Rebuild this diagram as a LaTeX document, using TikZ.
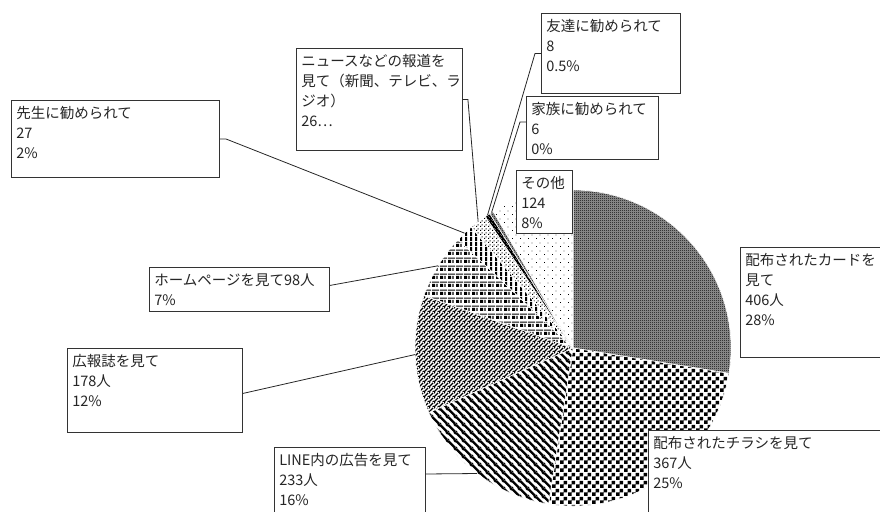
\documentclass[tikz,border=0pt]{standalone}
\usepackage{fontspec}
\setmainfont{Noto Sans CJK JP}
\usetikzlibrary{patterns}

% fill patterns of the slices
\pgfdeclarepatternformonly{fine checker}{\pgfpointorigin}{\pgfqpoint{2pt}{2pt}}{\pgfqpoint{2pt}{2pt}}{%
  \pgfpathrectangle{\pgfpointorigin}{\pgfqpoint{1pt}{1pt}}%
  \pgfpathrectangle{\pgfqpoint{1pt}{1pt}}{\pgfqpoint{1pt}{1pt}}%
  \pgfusepath{fill}}
\pgfdeclarepatternformonly{big checker}{\pgfpointorigin}{\pgfqpoint{8pt}{8pt}}{\pgfqpoint{8pt}{8pt}}{%
  \pgfpathrectangle{\pgfpointorigin}{\pgfqpoint{4pt}{4pt}}%
  \pgfpathrectangle{\pgfqpoint{4pt}{4pt}}{\pgfqpoint{4pt}{4pt}}%
  \pgfusepath{fill}}
\pgfdeclarepatternformonly{wide stripes}{\pgfpointorigin}{\pgfqpoint{8pt}{8pt}}{\pgfqpoint{8pt}{8pt}}{%
  \pgfsetlinewidth{2.6pt}%
  \pgfpathmoveto{\pgfqpoint{0pt}{8pt}}\pgfpathlineto{\pgfqpoint{8pt}{0pt}}%
  \pgfpathmoveto{\pgfqpoint{-1pt}{1pt}}\pgfpathlineto{\pgfqpoint{1pt}{-1pt}}%
  \pgfpathmoveto{\pgfqpoint{7pt}{9pt}}\pgfpathlineto{\pgfqpoint{9pt}{7pt}}%
  \pgfusepath{stroke}}
\pgfdeclarepatternformonly{thin stripes}{\pgfpointorigin}{\pgfqpoint{4.5pt}{4.5pt}}{\pgfqpoint{4.5pt}{4.5pt}}{%
  \pgfsetlinewidth{1.5pt}%
  \pgfpathmoveto{\pgfqpoint{0pt}{0pt}}\pgfpathlineto{\pgfqpoint{4.5pt}{4.5pt}}%
  \pgfpathmoveto{\pgfqpoint{3.5pt}{-1pt}}\pgfpathlineto{\pgfqpoint{5.5pt}{1pt}}%
  \pgfpathmoveto{\pgfqpoint{-1pt}{3.5pt}}\pgfpathlineto{\pgfqpoint{1pt}{5.5pt}}%
  \pgfusepath{stroke}}
\pgfdeclarepatternformonly{plaid}{\pgfpointorigin}{\pgfqpoint{8pt}{8pt}}{\pgfqpoint{8pt}{8pt}}{%
  \pgfpathrectangle{\pgfpointorigin}{\pgfqpoint{3.5pt}{3.5pt}}%
  \pgfpathrectangle{\pgfqpoint{0pt}{5pt}}{\pgfqpoint{8pt}{0.9pt}}%
  \pgfpathrectangle{\pgfqpoint{5pt}{0pt}}{\pgfqpoint{1.2pt}{3.5pt}}%
  \pgfusepath{fill}}
\pgfdeclarepatternformonly{bars}{\pgfpointorigin}{\pgfqpoint{5pt}{5pt}}{\pgfqpoint{5pt}{5pt}}{%
  \pgfpathrectangle{\pgfpointorigin}{\pgfqpoint{2.5pt}{5pt}}%
  \pgfusepath{fill}}
\pgfdeclarepatternformonly{dense dots}{\pgfpointorigin}{\pgfqpoint{4pt}{4pt}}{\pgfqpoint{4pt}{4pt}}{%
  \pgfpathrectangle{\pgfpointorigin}{\pgfqpoint{1.3pt}{1.3pt}}%
  \pgfpathrectangle{\pgfqpoint{2pt}{2pt}}{\pgfqpoint{1.3pt}{1.3pt}}%
  \pgfusepath{fill}}
\pgfdeclarepatternformonly{dark stripes}{\pgfpointorigin}{\pgfqpoint{3pt}{3pt}}{\pgfqpoint{3pt}{3pt}}{%
  \pgfsetlinewidth{1.8pt}%
  \pgfpathmoveto{\pgfqpoint{0pt}{3pt}}\pgfpathlineto{\pgfqpoint{3pt}{0pt}}%
  \pgfpathmoveto{\pgfqpoint{-1pt}{1pt}}\pgfpathlineto{\pgfqpoint{1pt}{-1pt}}%
  \pgfpathmoveto{\pgfqpoint{2pt}{4pt}}\pgfpathlineto{\pgfqpoint{4pt}{2pt}}%
  \pgfusepath{stroke}}
\pgfdeclarepatternformonly{sparse dots}{\pgfpointorigin}{\pgfqpoint{8pt}{8pt}}{\pgfqpoint{8pt}{8pt}}{%
  \pgfpathrectangle{\pgfpointorigin}{\pgfqpoint{1pt}{1pt}}%
  \pgfpathrectangle{\pgfqpoint{4pt}{4pt}}{\pgfqpoint{1pt}{1pt}}%
  \pgfusepath{fill}}

\begin{document}
\begin{tikzpicture}[
            x = 1pt, y = 1pt, % one unit per pixel
            semithick
        ]

        \tikzstyle{slice}=[
            draw = white,
            line width = 0.6pt
        ]
        \tikzstyle{lbox}=[
            draw = black!80,
            line width = 0.9pt,
            fill = white,
            anchor = north west,
            inner sep = 0pt
        ]
        \tikzstyle{ltext}=[
            anchor = north west,
            align = left,
            inner xsep = 5pt,
            inner ysep = 6pt,
            text = black!85,
            font = \fontsize{14.5pt}{20pt}\selectfont
        ]
        \tikzstyle{leader}=[
            draw = black!85,
            line width = 0.8pt
        ]

        \useasboundingbox (0,0) rectangle (880,511);

        \coordinate (c) at (573,163);

        % slices, clockwise from the top
        \path[slice, preaction={fill=black!40}, pattern=fine checker] (c) -- ++(90:158) arc[start angle=90, end angle=-9.23, radius=158pt] -- cycle;
        \path[slice, pattern=big checker] (c) -- ++(-9.23:158) arc[start angle=-9.23, end angle=-98.93, radius=158pt] -- cycle;
        \path[slice, pattern=wide stripes] (c) -- ++(-98.93:158) arc[start angle=-98.93, end angle=-155.88, radius=158pt] -- cycle;
        \path[slice, pattern=thin stripes] (c) -- ++(-155.88:158) arc[start angle=-155.88, end angle=-199.38, radius=158pt] -- cycle;
        \path[slice, pattern=plaid] (c) -- ++(-199.38:158) arc[start angle=-199.38, end angle=-223.33, radius=158pt] -- cycle;
        \path[slice, pattern=bars] (c) -- ++(-223.33:158) arc[start angle=-223.33, end angle=-229.93, radius=158pt] -- cycle;
        \path[slice, pattern=dense dots] (c) -- ++(-229.93:158) arc[start angle=-229.93, end angle=-236.28, radius=158pt] -- cycle;
        \path[slice, pattern=dark stripes] (c) -- ++(-236.28:158) arc[start angle=-236.28, end angle=-238.24, radius=158pt] -- cycle;
        \path[slice, preaction={fill=black!40}, pattern=fine checker] (c) -- ++(-238.24:158) arc[start angle=-238.24, end angle=-239.70, radius=158pt] -- cycle;
        \path[slice, pattern=sparse dots] (c) -- ++(-239.70:158) arc[start angle=-239.70, end angle=-270, radius=158pt] -- cycle;

        % where the leaders meet the pie
        \begin{scope}[shift={(c)}]
            \coordinate (t-sensei) at (133.37:158);
            \coordinate (t-news) at (126.9:158);
            \coordinate (t-tomo) at (122.74:158);
            \coordinate (t-kazoku) at (121.03:158);
            \coordinate (t-hp) at (148.65:158);
            \coordinate (t-kouhou) at (182.37:158);
            \coordinate (t-line) at (232.6:158);
        \end{scope}

        % label boxes
        \node[lbox, minimum width=208pt, minimum height=77pt, label={[ltext]north west:{先生に勧められて\\27\\2\%}}] (sensei) at (11,411) {};
        \node[lbox, minimum width=166pt, minimum height=102pt, label={[ltext]north west:{ニュースなどの報道を\\見て（新聞、テレビ、ラ\\ジオ）\\26…}}] (news) at (296,463) {};
        \node[lbox, minimum width=139pt, minimum height=80pt, label={[ltext]north west:{友達に勧められて\\8\\0.5\%}}] (tomo) at (541,498) {};
        \node[lbox, minimum width=132pt, minimum height=63pt, label={[ltext]north west:{家族に勧められて\\6\\0\%}}] (kazoku) at (526,415) {};
        \node[lbox, minimum width=56pt, minimum height=63pt, label={[ltext]north west:{その他\\124\\8\%}}] (sonota) at (516,341) {};
        \node[lbox, minimum width=180pt, minimum height=44pt, label={[ltext]north west:{ホームページを見て98人\\7\%}}] (hp) at (149,244) {};
        \node[lbox, minimum width=175pt, minimum height=84pt, label={[ltext]north west:{広報誌を見て\\178人\\12\%}}] (kouhou) at (67,163) {};
        \node[lbox, minimum width=151pt, minimum height=90pt, label={[ltext]north west:{LINE内の広告を見て\\233人\\16\%}}] (line) at (274,64) {};
        \node[lbox, minimum width=139.5pt, minimum height=110pt, label={[ltext]north west:{配布されたカードを\\見て\\406人\\28\%}}] (card) at (740,264) {};
        \node[lbox, minimum width=231.5pt, minimum height=100pt, label={[ltext]north west:{配布されたチラシを見て\\367人\\25\%}}] (chirashi) at (648,81) {};

        % leader lines
        \draw[leader] (sensei.east) -- ++(6,0) -- (t-sensei);
        \draw[leader] (news.east) -- ++(5,0) -- (t-news);
        \draw[leader] (tomo.west) -- ++(-6,0) -- (t-tomo);
        \draw[leader] ([yshift=6pt]kazoku.west) -- ++(-6,0) -- (t-kazoku);
        \draw[leader] ([yshift=4pt]hp.east) -- (t-hp);
        \draw[leader] ([yshift=-3pt]kouhou.east) -- (t-kouhou);
        \draw[leader] ([yshift=-27pt]line.north east) -- (t-line);
    \end{tikzpicture}
\end{document}
